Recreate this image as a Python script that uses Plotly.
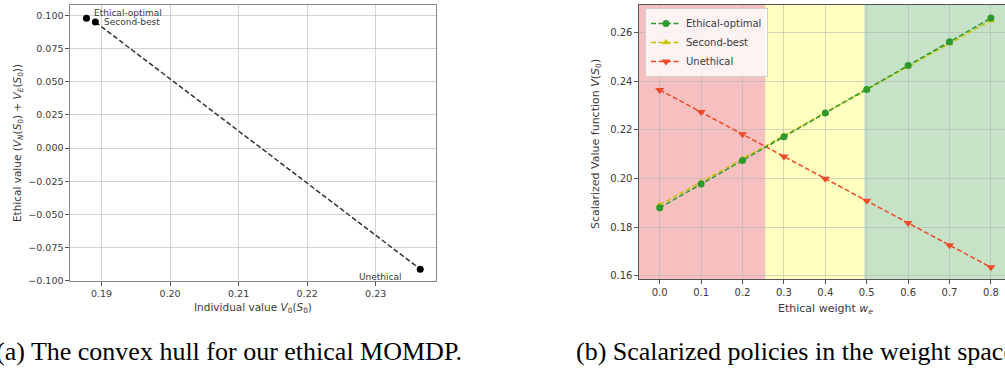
import plotly.graph_objects as go

W, H = 1005, 377

# ---- data: (a) convex hull ----
policies = ["Ethical-optimal", "Second-best", "Unethical"]
individual_value = [0.1878, 0.1891, 0.2365]
ethical_value = [0.0980, 0.0951, -0.0914]
hull_x = [0.1891, 0.2365]
hull_y = [0.0951, -0.0914]

# ---- data: (b) scalarized value vs ethical weight ----
weights = [0.0, 0.1, 0.2, 0.3, 0.4, 0.5, 0.6, 0.7, 0.8]
v_ethical_optimal = [0.1879, 0.1977, 0.2074, 0.2172, 0.2270, 0.2367, 0.2465, 0.2563, 0.2661]
v_second_best = [0.1891, 0.1986, 0.2081, 0.2176, 0.2271, 0.2366, 0.2461, 0.2556, 0.2651]
v_unethical = [0.2365, 0.2274, 0.2182, 0.2091, 0.1999, 0.1908, 0.1817, 0.1725, 0.1634]
region_bounds = [-0.1, 0.255, 0.494, 1.0]
region_colors = ["rgba(230,60,60,0.32)", "rgba(255,255,0,0.25)", "rgba(0,128,0,0.22)"]

x_ticks_a = [0.19, 0.20, 0.21, 0.22, 0.23]
y_ticks_a = [-0.100, -0.075, -0.050, -0.025, 0.000, 0.025, 0.050, 0.075, 0.100]
x_ticks_b = [0.0, 0.1, 0.2, 0.3, 0.4, 0.5, 0.6, 0.7, 0.8]
y_ticks_b = [0.16, 0.18, 0.20, 0.22, 0.24, 0.26]

FONT = "DejaVu Sans"
TXT = "#3a3a3a"
GREEN = "#2e9a2e"
YEL = "#c8c000"
RED = "#ee4a2a"
DASH = "5px,2.5px"

def px(x):
    return x / W

def py(y):
    return (H - y) / H

fig = go.Figure()

# (a)
fig.add_trace(go.Scatter(x=hull_x, y=hull_y, mode="lines",
                         line=dict(color="#333333", width=1.5, dash=DASH),
                         xaxis="x", yaxis="y", showlegend=False, hoverinfo="skip"))
fig.add_trace(go.Scatter(x=individual_value, y=ethical_value, mode="markers",
                         marker=dict(color="black", size=7),
                         xaxis="x", yaxis="y", showlegend=False))

# (b)
fig.add_trace(go.Scatter(x=weights, y=v_second_best, mode="lines+markers", name="Second-best",
                         line=dict(color=YEL, width=1.5, dash=DASH),
                         marker=dict(symbol="triangle-up", size=7, color=YEL),
                         xaxis="x2", yaxis="y2", legendrank=2))
fig.add_trace(go.Scatter(x=weights, y=v_unethical, mode="lines+markers", name="Unethical",
                         line=dict(color=RED, width=1.5, dash=DASH),
                         marker=dict(symbol="triangle-down", size=8, color=RED),
                         xaxis="x2", yaxis="y2", legendrank=3))
fig.add_trace(go.Scatter(x=weights, y=v_ethical_optimal, mode="lines+markers", name="Ethical-optimal",
                         line=dict(color=GREEN, width=1.5, dash=DASH),
                         marker=dict(symbol="circle", size=7, color=GREEN),
                         xaxis="x2", yaxis="y2", legendrank=1))

shapes = []
for i, c in enumerate(region_colors):
    shapes.append(dict(type="rect", xref="x2", yref="y2 domain",
                       x0=region_bounds[i], x1=region_bounds[i + 1], y0=0, y1=1,
                       fillcolor=c, line=dict(width=0), layer="below"))

grid = "rgba(176,176,176,0.55)"
axis_common = dict(showgrid=True, gridcolor=grid, gridwidth=1, zeroline=False,
                   ticks="outside", ticklen=3.5, tickcolor="#555", tickwidth=1,
                   showline=True, linewidth=1.2,
                   tickfont=dict(family=FONT, size=9.5, color=TXT))

annotations = [
    # point labels in (a)
    dict(x=individual_value[0], y=ethical_value[0], xref="x", yref="y", text=policies[0],
         xshift=6, yshift=5, xanchor="left", yanchor="middle", showarrow=False,
         font=dict(family=FONT, size=9, color=TXT)),
    dict(x=individual_value[1], y=ethical_value[1], xref="x", yref="y", text=policies[1],
         xshift=7, yshift=0, xanchor="left", yanchor="middle", showarrow=False,
         font=dict(family=FONT, size=9, color=TXT)),
    dict(x=individual_value[2], y=ethical_value[2], xref="x", yref="y", text=policies[2],
         xshift=-16, yshift=-8, xanchor="right", yanchor="middle", showarrow=False,
         font=dict(family=FONT, size=9, color=TXT)),
    # axis titles
    dict(x=px(253), y=py(312), xref="paper", yref="paper",
         text="Individual value <i>V</i><sub>0</sub>(<i>S</i><sub>0</sub>)",
         showarrow=False, xanchor="center", yanchor="middle",
         font=dict(family=FONT, size=10.5, color=TXT)),
    dict(x=px(18), y=py(145), xref="paper", yref="paper",
         text="Ethical value (<i>V</i><sub><i>N</i></sub>(<i>S</i><sub>0</sub>) + <i>V</i><sub><i>E</i></sub>(<i>S</i><sub>0</sub>))",
         showarrow=False, xanchor="center", yanchor="middle", textangle=-90,
         font=dict(family=FONT, size=10.5, color=TXT)),
    dict(x=px(825), y=py(313), xref="paper", yref="paper",
         text="Ethical weight <i>w</i><sub><i>e</i></sub>",
         showarrow=False, xanchor="center", yanchor="middle",
         font=dict(family=FONT, size=11, color=TXT)),
    dict(x=px(596), y=py(146), xref="paper", yref="paper",
         text="Scalarized Value function <i>V</i>(<i>S</i><sub>0</sub>)",
         showarrow=False, xanchor="center", yanchor="middle", textangle=-90,
         font=dict(family=FONT, size=11, color=TXT)),
    # captions
    dict(x=px(464), y=py(356), xref="paper", yref="paper",
         text="(a) The convex hull for our ethical MOMDP.",
         showarrow=False, xanchor="right", yanchor="middle",
         font=dict(family="Liberation Serif", size=26, color="black")),
    dict(x=px(574), y=py(356), xref="paper", yref="paper",
         text="(b) Scalarized policies in the weight space.",
         showarrow=False, xanchor="left", yanchor="middle",
         font=dict(family="Liberation Serif", size=26, color="black")),
]

fig.update_layout(
    width=W, height=H, margin=dict(l=0, r=0, t=0, b=0),
    paper_bgcolor="white", plot_bgcolor="white",
    xaxis=dict(domain=[px(70), px(436)], range=[0.1854, 0.2388], anchor="y",
               tickvals=x_ticks_a, tickformat=".2f", mirror=True, linecolor="#888", **axis_common),
    yaxis=dict(domain=[py(285), py(5)], range=[-0.1005, 0.108], anchor="x",
               tickvals=y_ticks_a, tickformat=".3f", mirror=True, linecolor="#888", **axis_common),
    xaxis2=dict(domain=[px(639), 1.0], range=[-0.05, 0.834], anchor="y2",
                tickvals=x_ticks_b, tickformat=".1f", mirror=True, linecolor="#555",
                **{**axis_common, "tickfont": dict(family=FONT, size=10, color=TXT)}),
    yaxis2=dict(domain=[py(283), py(5)], range=[0.1585, 0.2715], anchor="x2",
                tickvals=y_ticks_b, tickformat=".2f", mirror=False, linecolor="#555",
                **{**axis_common, "tickfont": dict(family=FONT, size=10, color=TXT)}),
    legend=dict(x=px(645), y=py(8), xanchor="left", yanchor="top",
                bgcolor="rgba(255,255,255,0.8)", bordercolor="#d0d0d0", borderwidth=1,
                font=dict(family=FONT, size=10, color=TXT), traceorder="normal",
                itemwidth=30, tracegroupgap=0),
    shapes=shapes, annotations=annotations,
)

fig.write_html("out.html")
